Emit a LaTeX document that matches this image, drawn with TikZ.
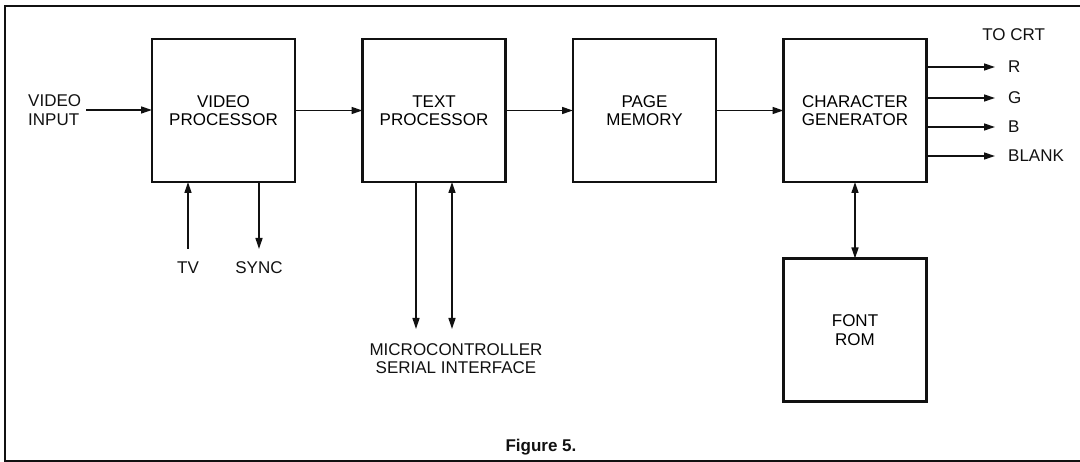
\documentclass[tikz,border=0pt]{standalone}
\usepackage{fontspec}
\setmainfont{Liberation Sans}
\usetikzlibrary{positioning, arrows.meta}
\definecolor{ink}{HTML}{111111}

\begin{document}
\begin{tikzpicture}[x=1pt, y=-1pt, blk/.style={draw=ink, line width=2.4pt, minimum width=143pt, minimum height=143pt, inner sep=0pt, outer sep=0pt, align=center, font=\fontsize{17}{18.5}\selectfont},lbl/.style={inner sep=0pt, align=center, text=ink, font=\fontsize{17}{18.5}\selectfont},arr/.style={-{Triangle[length=11pt, width=7pt]}, line width=1.3pt, draw=ink},biarr/.style={{Triangle[length=11pt, width=7pt]}-{Triangle[length=11pt, width=7pt]}, line width=1.3pt, draw=ink}]
\useasboundingbox (0,0) rectangle (1080,462);
\draw[ink, line width=1.8pt] (1090,6) -- (5,6) -- (5,461) -- (1090,461);
\node[blk] (vp) at (223.5,110.5) {VIDEO\\PROCESSOR};
\node[blk, right=67.5pt of vp] (tp) {TEXT\\PROCESSOR};
\node[blk, right=67.5pt of tp] (pm) {PAGE\\MEMORY};
\node[blk, right=67.5pt of pm] (cg) {CHARACTER\\GENERATOR};
\node[blk, below=76.5pt of cg] (fr) {FONT\\ROM};
\node[lbl, align=left, anchor=west] (vin) at (28,110) {VIDEO\\INPUT};
\node[lbl] (tv) at (188,268) {TV};
\node[lbl] (sync) at (259,268) {SYNC};
\node[lbl] (mc) at (456,358.5) {MICROCONTROLLER\\SERIAL INTERFACE};
\node[lbl] (crt) at (1013.7,35) {TO CRT};
\node[lbl, font=\fontsize{17}{18.5}\selectfont\bfseries] (fig) at (541,447) {Figure 5.};
\coordinate (tvIn) at (188,249); \coordinate (syncOut) at (259,249); \coordinate (mcA) at (416,329); \coordinate (mcB) at (452,329);
\draw[arr, shorten <=5pt] (vin.east) -- (vp.west |- vin.east); \draw[arr] (vp)--(tp); \draw[arr] (tp)--(pm); \draw[arr] (pm)--(cg);
\draw[arr] (tvIn) -- (vp.south -| tvIn); \draw[arr] (vp.south -| syncOut) -- (syncOut);
\draw[arr] (tp.south -| mcA) -- (mcA); \draw[biarr] (tp.south -| mcB) -- (mcB);
\draw[biarr] (cg.south) -- (fr.north);
\foreach \nm/\txt/\yy in {r/R/67, g/G/98, b/B/127, blank/BLANK/156} {
  \node[lbl, anchor=west] (\nm) at (1008,\yy) {\txt};
  \draw[arr] (cg.east |- \nm.west) -- ([xshift=-13pt]\nm.west);
}
\end{tikzpicture}
\end{document}
